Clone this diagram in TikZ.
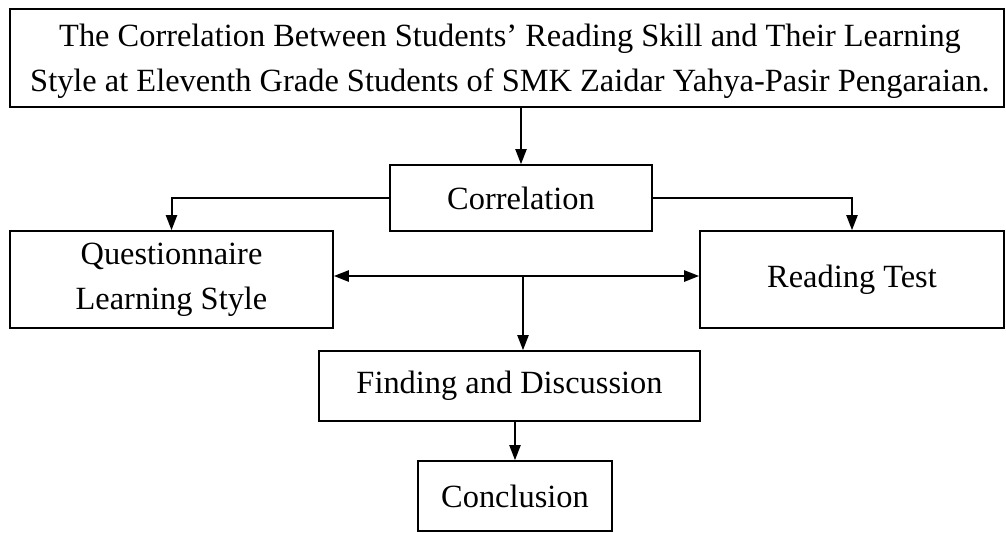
\documentclass[tikz,border=0pt]{standalone}
\usepackage{fontspec}
\setmainfont{Liberation Serif}
\usetikzlibrary{positioning}
\usetikzlibrary{arrows.meta}

\begin{document}
\begin{tikzpicture}[x=0.5pt,y=-0.5pt,
  box/.style={draw,line width=0.8pt,align=center,inner sep=0pt,font=\fontsize{16.2}{22.5}\selectfont},
  arr/.style={-{Triangle[length=7.5pt,width=5.5pt]},line width=1pt}]
  \useasboundingbox (0,0) rectangle (1006,532);
  \node[box,minimum width=497pt,minimum height=49pt] (title) at (507,58) {};
  \node[box,draw=none] (titletext) at (510,61)
    {The Correlation Between Students’ Reading Skill and Their Learning\\
     Style at Eleventh Grade Students of SMK Zaidar Yahya-Pasir Pengaraian.};
  \node[box,minimum width=131pt,minimum height=33pt] (corr) at (521,198) {Correlation};
  \node[box,minimum width=161.5pt,minimum height=48.5pt] (quest) at (171.5,279.5)
    {Questionnaire\\Learning Style};
  \node[box,minimum width=152pt,minimum height=48.5pt] (read) at (852,279.5) {Reading Test};
  \node[box,minimum width=190.5pt,minimum height=35pt] (find) at (509.5,386) {Finding and Discussion};
  \node[box,minimum width=97pt,minimum height=35pt] (concl) at (515,496) {Conclusion};
  \coordinate (mid) at (523,276);
  \draw[arr] (title.south -| corr.north) -- (corr.north);
  \draw[arr] (corr.west) -| (quest.north);
  \draw[arr] (corr.east) -| (read.north);
  \draw[{Triangle[length=7.5pt,width=5.5pt]}-{Triangle[length=7.5pt,width=5.5pt]},line width=1.2pt] (mid -| quest.east) -- (mid -| read.west);
  \draw[arr] (mid) -- (mid |- find.north);
  \draw[arr] (concl.north |- find.south) -- (concl.north);
\end{tikzpicture}
\end{document}
